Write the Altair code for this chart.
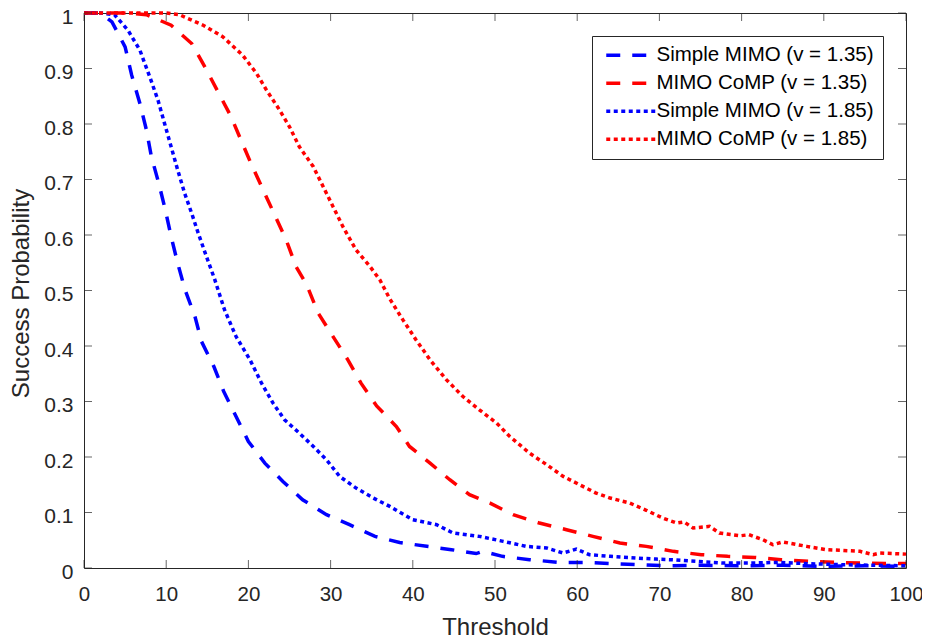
import altair as alt
import pandas as pd

# ---- data ----
names = ["Simple MIMO (v = 1.35)", "MIMO CoMP (v = 1.35)",
         "Simple MIMO (v = 1.85)", "MIMO CoMP (v = 1.85)"]

x_simple_135 = [0, 2, 3.4, 5, 5.8, 6.8, 7.6, 8.2, 9.1, 9.9, 10.6, 11.4, 12.3, 13.5, 14.3, 15.8, 17, 18.5, 20, 22,
                24.2, 26.6, 29.5, 32.3, 35.4, 38.4, 41.7, 44.7, 47.7, 48.5, 50.9, 54.2, 57.9, 61.1, 64.3, 67.6, 70.9,
                75, 80, 85, 90, 95, 100]
y_simple_135 = [1, 1, 0.984, 0.939, 0.888, 0.837, 0.789, 0.741, 0.693, 0.645, 0.597, 0.549, 0.501, 0.453, 0.408,
                0.363, 0.318, 0.273, 0.228, 0.189, 0.156, 0.123, 0.096, 0.078, 0.057, 0.046, 0.039, 0.033, 0.026,
                0.030, 0.021, 0.015, 0.010, 0.010, 0.008, 0.006, 0.004, 0.005, 0.004, 0.005, 0.003, 0.004, 0.003]

x_comp_135 = [0, 5, 7.6, 10.6, 13.1, 14.7, 16.3, 17.9, 19.1, 20.4, 21.8, 23.2, 24.6, 25.8, 27.1, 28.5, 30.3, 32.1,
              33.7, 35.6, 38, 39.6, 42.1, 44.5, 46.9, 49.4, 52.2, 55.4, 58.7, 61.9, 65.2, 68.4, 71.7, 75.1, 78.3,
              81.6, 84.8, 88.3, 91.5, 94.8, 98, 100]
y_comp_135 = [1, 1, 0.997, 0.978, 0.945, 0.903, 0.858, 0.813, 0.771, 0.726, 0.681, 0.636, 0.591, 0.543, 0.510,
              0.459, 0.417, 0.375, 0.333, 0.292, 0.255, 0.219, 0.189, 0.159, 0.132, 0.117, 0.096, 0.081, 0.069,
              0.057, 0.045, 0.039, 0.030, 0.024, 0.021, 0.019, 0.015, 0.012, 0.010, 0.009, 0.008, 0.008]

x_simple_185 = [0, 2, 3.7, 5.35, 6.8, 8, 9, 9.8, 10.6, 11.4, 12.25, 13.1, 13.9, 14.9, 15.9, 17.1, 18.5, 20.2, 21.6,
                23, 24.4, 26.2, 27.9, 29.5, 31.1, 33.1, 35.2, 37.2, 40, 42.9, 44.9, 48.1, 51, 53.8, 56.3, 58.3, 59.9,
                61.5, 64, 67.2, 69.6, 71.3, 74.5, 77.7, 81, 84.6, 87.7, 92, 96, 100]
y_simple_185 = [1, 1, 0.997, 0.969, 0.933, 0.885, 0.843, 0.801, 0.759, 0.717, 0.675, 0.639, 0.603, 0.561, 0.520,
                0.465, 0.417, 0.375, 0.333, 0.297, 0.267, 0.243, 0.219, 0.195, 0.165, 0.144, 0.126, 0.111, 0.087,
                0.078, 0.063, 0.057, 0.048, 0.039, 0.036, 0.027, 0.034, 0.024, 0.021, 0.018, 0.016, 0.015, 0.012,
                0.009, 0.009, 0.010, 0.008, 0.006, 0.005, 0.004]

x_comp_185 = [0, 5, 10, 11.6, 14.5, 16.9, 19.3, 21, 22.2, 23.8, 25, 26.2, 27.9, 29.1, 30.3, 31.5, 33.1, 34.8, 36,
              37.2, 38.8, 40.4, 42.1, 44.1, 46.1, 48.1, 50.2, 51.8, 54.2, 56.3, 58.3, 60.3, 62.3, 64, 66.4, 68.4,
              70.4, 72.1, 73, 74.1, 76.1, 77.3, 79.8, 80.9, 82.6, 83.8, 85, 87.9, 90.3, 91.9, 94.4, 96, 96.8, 100]
y_comp_185 = [1, 1, 1, 0.997, 0.978, 0.957, 0.924, 0.891, 0.861, 0.825, 0.795, 0.759, 0.723, 0.687, 0.651, 0.615,
              0.573, 0.543, 0.519, 0.485, 0.447, 0.411, 0.375, 0.339, 0.309, 0.285, 0.261, 0.237, 0.207, 0.186,
              0.165, 0.150, 0.135, 0.126, 0.117, 0.104, 0.090, 0.081, 0.083, 0.072, 0.075, 0.063, 0.058, 0.060,
              0.051, 0.042, 0.047, 0.039, 0.033, 0.032, 0.030, 0.024, 0.027, 0.025]

x_ticks = [0, 10, 20, 30, 40, 50, 60, 70, 80, 90, 100]
y_ticks = [0, 0.1, 0.2, 0.3, 0.4, 0.5, 0.6, 0.7, 0.8, 0.9, 1]

colors = ["#0000ff", "#ff0000", "#0000ff", "#ff0000"]
dashes = [[14, 12], [14, 12], [4, 3.5], [4, 3.5]]

# ---- build tables ----
series = [(names[0], x_simple_135, y_simple_135), (names[1], x_comp_135, y_comp_135),
          (names[2], x_simple_185, y_simple_185), (names[3], x_comp_185, y_comp_185)]
rows = []
for order, (nm, xs, ys) in enumerate(series):
    for xv, yv in zip(xs, ys):
        rows.append({"series": nm, "order": order, "Threshold": xv, "P": yv})
df = pd.DataFrame(rows)
xt = pd.DataFrame({"t": x_ticks})
yt = pd.DataFrame({"t": y_ticks})

AX = "#262626"
FONT = "Liberation Sans"

xscale = alt.Scale(domain=[0, 100], nice=False, zero=False)
yscale = alt.Scale(domain=[0, 1], nice=False, zero=False)

lines = alt.Chart(df).mark_line(strokeWidth=3.5, strokeCap="butt", strokeJoin="miter").encode(
    x=alt.X("Threshold:Q", scale=xscale,
            axis=alt.Axis(values=x_ticks, title="Threshold", titleY=66, titleBaseline="alphabetic",
                          labelPadding=16, labelFlush=False, labelFontSize=20.5)),
    y=alt.Y("P:Q", scale=yscale,
            axis=alt.Axis(values=y_ticks, format="~g", title="Success Probability", titleX=-56, titleY=280,
                          titleBaseline="alphabetic", titleAlign="center", labelPadding=11,
                          labelFlush=False, labelOffset=4)),
    color=alt.Color("series:N", title=None,
                    scale=alt.Scale(domain=names, range=colors),
                    legend=alt.Legend(orient="none", legendX=508, legendY=23)),
    strokeDash=alt.StrokeDash("series:N", title=None, scale=alt.Scale(domain=names, range=dashes)),
    detail="series:N",
    order="Threshold:Q",
)

tick_style = dict(color=AX, size=8, thickness=1)
bottom = alt.Chart(xt).mark_tick(orient="vertical", yOffset=-4, **tick_style).encode(
    x=alt.X("t:Q"), y=alt.datum(0))
top = alt.Chart(xt).mark_tick(orient="vertical", yOffset=4, **tick_style).encode(
    x=alt.X("t:Q"), y=alt.datum(1))
left = alt.Chart(yt).mark_tick(orient="horizontal", xOffset=4, **tick_style).encode(
    y=alt.Y("t:Q"), x=alt.datum(0))
right = alt.Chart(yt).mark_tick(orient="horizontal", xOffset=-4, **tick_style).encode(
    y=alt.Y("t:Q"), x=alt.datum(100))

chart = alt.layer(lines, bottom, top, left, right).properties(
    width=822, height=555,
    autosize=alt.AutoSizeParams(type="none"),
    padding={"left": 76, "top": 5, "right": 16, "bottom": 67},
    background="white",
).configure_view(
    stroke=AX, strokeWidth=1
).configure_axis(
    domain=False, grid=False, ticks=False, tickSize=0,
    labelFont=FONT, labelFontSize=21, labelColor=AX,
    titleFont=FONT, titleFontSize=24, titleFontWeight="normal", titleColor=AX,
).configure_legend(
    symbolType="M0,0L25.5,0", symbolSize=16, symbolStrokeWidth=3.5, symbolOffset=-5,
    labelFont=FONT, labelFontSize=20.5, labelColor="#000000", labelOffset=40,
    rowPadding=7, padding=9,
    strokeColor=AX, fillColor="white", cornerRadius=0,
    labelLimit=400,
)

chart.save("out.html", embed_options={"renderer": "svg", "actions": False})
